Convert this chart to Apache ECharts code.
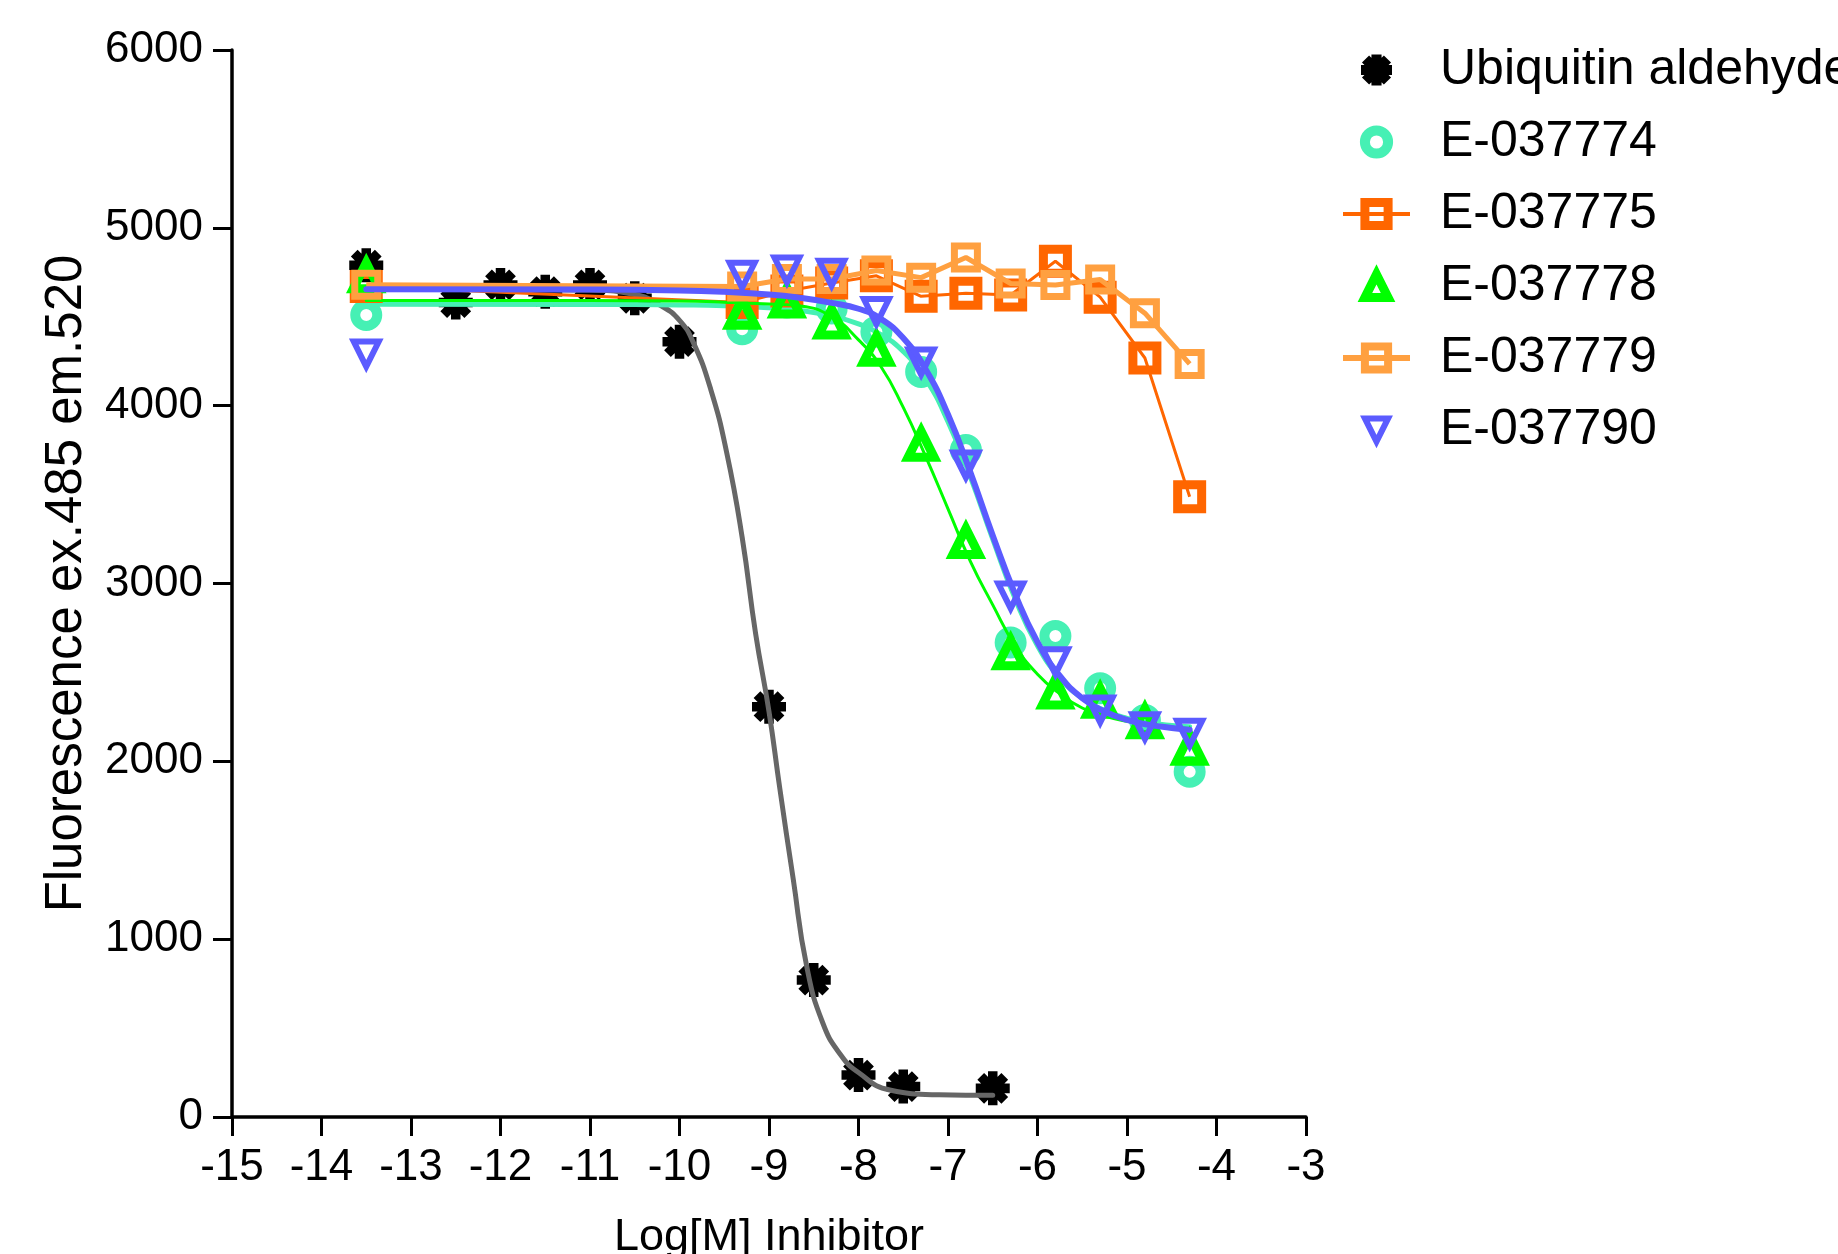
<!DOCTYPE html>
<html>
<head>
<meta charset="utf-8">
<script src="https://cdn.jsdelivr.net/npm/echarts@6/dist/echarts.min.js"></script>
<style>
  html, body { margin: 0; padding: 0; background: #fff; }
  #chart { width: 1838px; height: 1254px; }
</style>
</head>
<body>
<div id="chart"></div>
<script>
// ---------- data ----------
const legendNames = ['Ubiquitin aldehyde', 'E-037774', 'E-037775', 'E-037778', 'E-037779', 'E-037790'];

const xUbi = [-13.5, -12.5, -12, -11.5, -11, -10.5, -10, -9, -8.5, -8, -7.5, -6.5];
const yUbi = [4790, 4580, 4679, 4641, 4679, 4604, 4360, 2307, 770, 236, 171, 161];

const xCmp = [-13.5, -9.3, -8.8, -8.3, -7.8, -7.3, -6.8, -6.3, -5.8, -5.3, -4.8, -4.3];
const y774 = [4510, 4430, 4580, 4547, 4416, 4190, 3751, 2668, 2705, 2411, 2232, 1942];
const y775 = [4670, 4580, 4645, 4690, 4730, 4615, 4632, 4622, 4812, 4610, 4268, 3488];
const y778 = [4730, 4525, 4588, 4470, 4317, 3783, 3236, 2610, 2390, 2338, 2223, 2073];
const y779 = [4680, 4670, 4712, 4712, 4760, 4720, 4833, 4687, 4678, 4710, 4520, 4235];
const y790 = [4290, 4733, 4763, 4744, 4529, 4245, 3666, 2930, 2560, 2289, 2195, 2158];

// fitted curves
const xFitUbi = [-13.5, -12, -11, -10.5, -10.2, -10, -9.85, -9.65, -9.47, -9.3, -9.15, -9.0, -8.88, -8.73, -8.58, -8.4, -8.2, -8.0, -7.65, -7.1, -6.5];
const yFitUbi = [4655, 4654, 4650, 4625, 4560, 4480, 4360, 4090, 3730, 3260, 2720, 2280, 1850, 1340, 850, 530, 350, 250, 152, 125, 122];

const xFit = [-13.5, -11, -10, -9.5, -9, -8.65, -8.3, -8, -7.75, -7.5, -7.25, -7, -6.75, -6.5, -6.25, -6, -5.75, -5.5, -5.25, -5, -4.75, -4.5, -4.3];
const yFit774 = [4570, 4569, 4566, 4562, 4550, 4535, 4505, 4460, 4400, 4305, 4150, 3910, 3600, 3250, 2915, 2650, 2470, 2355, 2285, 2242, 2217, 2202, 2195];
const yFit778 = [4592, 4591, 4588, 4582, 4572, 4560, 4500, 4370, 4220, 3990, 3715, 3420, 3125, 2880, 2650, 2490, 2380, 2300, 2255, 2225, 2205, 2192, 2185];
const yFit790 = [4655, 4653, 4648, 4640, 4625, 4606, 4578, 4545, 4488, 4380, 4205, 3950, 3625, 3270, 2940, 2670, 2480, 2355, 2280, 2233, 2205, 2188, 2178];

const xTickMin = -15, xTickMax = -3, xTickStep = 1;
const yTickMin = 0, yTickMax = 6000, yTickStep = 1000;

// ---------- styling ----------
const FONT = '"Liberation Sans", Arial, Helvetica, sans-serif';
// 8-armed asterisk (arm half-width 0.28)
const ASTERISK = 'path://M0,36L100,36L100,64L0,64Z M64,0L64,100L36,100L36,0Z M24.55,4.75L95.25,75.45L75.45,95.25L4.75,24.55Z M95.25,24.55L24.55,95.25L4.75,75.45L75.45,4.75Z';

function pairs(xs, ys) { return xs.map((x, i) => [x, ys[i]]); }

function markers(name, xs, ys, o) {
  return {
    name: name, type: 'line', data: pairs(xs, ys), z: o.z,
    symbol: o.symbol, symbolSize: o.size, symbolRotate: o.rotate || 0,
    showSymbol: true, showAllSymbol: true,
    itemStyle: { color: o.fill || 'transparent', borderColor: o.color, borderWidth: o.bw, borderJoin: 'miter', borderMiterLimit: 10, opacity: 1 },
    lineStyle: o.line ? { color: o.color, width: o.line } : { width: 0, opacity: 0 },
    emphasis: { disabled: true }, silent: true
  };
}
function fit(name, xs, ys, color, width, z) {
  return {
    name: name, type: 'line', data: pairs(xs, ys), z: z,
    smooth: 0.5, showSymbol: false, symbol: 'none',
    lineStyle: { color: color, width: width, cap: 'round', join: 'round' },
    emphasis: { disabled: true }, silent: true
  };
}

const chart = echarts.init(document.getElementById('chart'), null, { renderer: 'canvas' });
chart.setOption({
  animation: false,
  backgroundColor: '#fff',
  textStyle: { fontFamily: FONT },
  grid: { left: 232, top: 50, right: 532, bottom: 137, containLabel: false, outerBoundsMode: 'none' },
  legend: {
    orient: 'vertical', left: 1335, top: 40,
    itemWidth: 67, itemHeight: 29, itemGap: 22,
    textStyle: { fontSize: 50, color: '#000', fontFamily: FONT, padding: [0, 0, 0, 25] },
    selectedMode: false,
    data: [
      { name: legendNames[0], icon: ASTERISK, itemStyle: { color: '#000', borderWidth: 2, borderColor: '#000' } },
      { name: legendNames[1], itemStyle: { borderWidth: 10 } },
      { name: legendNames[2], itemStyle: { borderWidth: 9 }, lineStyle: { width: 4 } },
      { name: legendNames[3], itemStyle: { borderWidth: 9 } },
      { name: legendNames[4], itemStyle: { borderWidth: 8 }, lineStyle: { width: 6 } },
      { name: legendNames[5], itemStyle: { borderWidth: 6 } }
    ]
  },
  xAxis: {
    type: 'value', min: xTickMin, max: xTickMax, interval: xTickStep,
    name: 'Log[M] Inhibitor', nameLocation: 'middle', nameGap: 98,
    nameTextStyle: { fontSize: 45, color: '#000', fontFamily: FONT },
    axisLine: { show: true, onZero: false, lineStyle: { color: '#000', width: 3.5 } },
    axisTick: { show: true, length: 19, lineStyle: { color: '#000', width: 3 } },
    axisLabel: { fontSize: 44, color: '#000', margin: 29, fontFamily: FONT, showMinLabel: true, showMaxLabel: true, formatter: v => String(v) },
    splitLine: { show: false }
  },
  yAxis: {
    type: 'value', min: yTickMin, max: yTickMax, interval: yTickStep,
    name: 'Fluorescence ex.485 em.520', nameLocation: 'middle', nameGap: 140, nameRotate: 90,
    nameTextStyle: { fontSize: 51, color: '#000', fontFamily: FONT },
    axisLine: { show: true, onZero: false, lineStyle: { color: '#000', width: 3.5 } },
    axisTick: { show: true, length: 19, lineStyle: { color: '#000', width: 3 } },
    axisLabel: { fontSize: 44, color: '#000', margin: 29, fontFamily: FONT, showMinLabel: true, showMaxLabel: true, formatter: v => String(v) },
    splitLine: { show: false }
  },
  series: [
    markers(legendNames[0], xUbi, yUbi, { symbol: ASTERISK, size: 34, color: '#000000', fill: '#000000', bw: 0, z: 2 }),
    fit('fit-ubi', xFitUbi, yFitUbi, '#666666', 5, 3),
    markers(legendNames[1], xCmp, y774, { symbol: 'circle', size: 22, color: '#46F0B4', bw: 10, z: 4 }),
    fit('fit-774', xFit, yFit774, '#46F0B4', 5, 5),
    markers(legendNames[2], xCmp, y775, { symbol: 'rect', size: 24, color: '#FF6600', bw: 9, z: 6, line: 3 }),
    markers(legendNames[3], xCmp, y778, { symbol: 'triangle', size: 26, color: '#00FF00', bw: 9, z: 7 }),
    fit('fit-778', xFit, yFit778, '#00FF00', 3, 8),
    markers(legendNames[4], xCmp, y779, { symbol: 'rect', size: 23, color: '#FFA040', bw: 7, z: 9, line: 5 }),
    markers(legendNames[5], xCmp, y790, { symbol: 'triangle', rotate: 180, size: 25, color: '#5B5BFF', bw: 6, z: 10 }),
    fit('fit-790', xFit, yFit790, '#5B5BFF', 6, 11)
  ]
});
</script>
</body>
</html>
